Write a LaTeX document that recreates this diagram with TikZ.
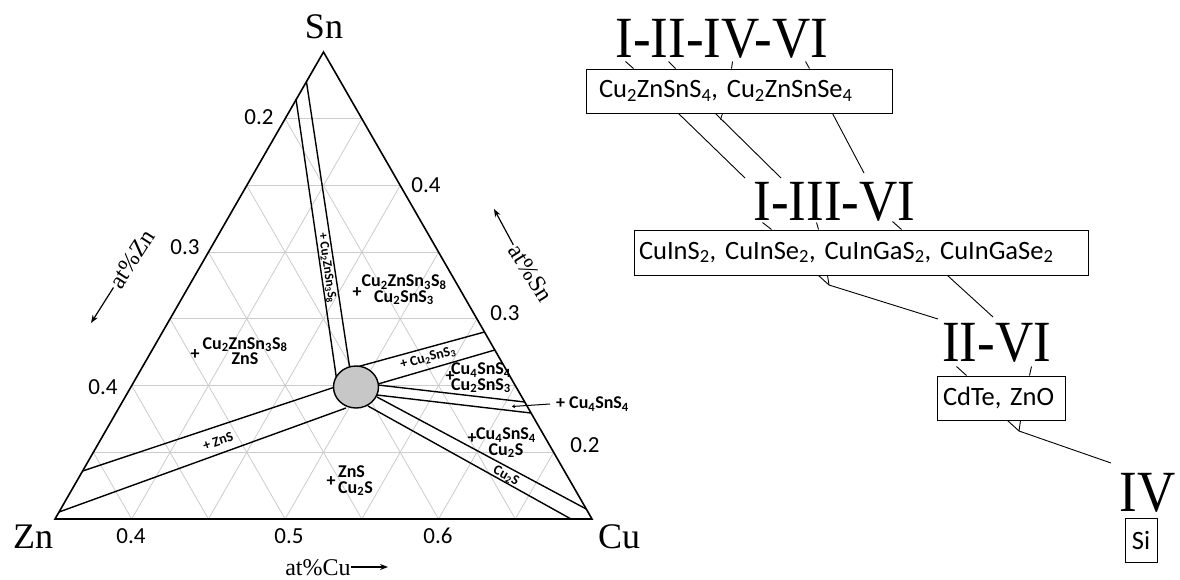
\documentclass[tikz,border=0pt]{standalone}
\usepackage{fontspec}
\usepackage{graphicx}
\setmainfont{Liberation Serif}
\newfontfamily\carl{Carlito}
\usetikzlibrary{arrows.meta,calc,shapes.geometric}
\tikzset{
  gridl/.style={draw=black!20, line width=0.8pt},
  triedge/.style={line width=1.6pt, line join=miter},
  bandline/.style={line width=1.4pt},
  rlab/.style={font=\carl\bfseries\fontsize{18}{15.5}\selectfont, align=center, inner sep=0pt},
  blab/.style={font=\carl\bfseries\fontsize{14}{14}\selectfont, inner sep=0pt},
  ticklab/.style={font=\carl\fontsize{23}{23}\selectfont, inner sep=0pt},
  vertlab/.style={font=\fontsize{36}{36}\selectfont, inner sep=0pt, anchor=base},
  axislab/.style={font=\fontsize{24}{24}\selectfont, inner sep=0pt},
  axarrow/.style={line width=1.2pt, -{Stealth[length=8pt,width=6pt]}},
  bigclass/.style={font=\fontsize{53}{53}\selectfont, inner sep=0pt, anchor=base},
  matbox/.style={draw, line width=1pt, font=\carl\fontsize{26.5}{26.5}\selectfont, inner ysep=0pt},
  link/.style={line width=0.9pt},
}
\begin{document}
\begin{tikzpicture}[x=1pt, y=-1pt]
\useasboundingbox (0,0) rectangle (1180,579);
\fill[white] (0,0) rectangle (1180,579);

% ---------------- ternary diagram ----------------
\coordinate (Zn) at (55,519);
\coordinate (Cu) at (592,519);
\coordinate (Sn) at (323.5,52);

\foreach \k in {1,...,6} {
  \draw[gridl] ($(Zn)!\k/7!(Sn)$) -- ($(Cu)!\k/7!(Sn)$);
  \draw[gridl] ($(Zn)!\k/7!(Cu)$) -- ($(Sn)!\k/7!(Cu)$);
  \draw[gridl] ($(Zn)!\k/7!(Cu)$) -- ($(Zn)!\k/7!(Sn)$);
}

% phase bands
\draw[bandline] (296,99) -- (337,382);
\draw[bandline] (306.5,82) -- (350,370);
\draw[bandline] (353,368) -- (484.5,332);
\draw[bandline] (378,384) -- (494.8,350);
\draw[bandline] (378,385) -- (524.7,402);
\draw[bandline] (377,395) -- (531,413);
\draw[bandline] (377,397) -- (586.2,509);
\draw[bandline] (368,406) -- (571,519);
\draw[bandline] (335,387) -- (82.6,471);
\draw[bandline] (346,408) -- (59,512);

\draw[triedge] (Zn) -- (Cu) -- (Sn) -- cycle;

\node[draw, line width=1.4pt, fill=black!22, ellipse, minimum width=45pt, minimum height=42pt, inner sep=0pt] (phase) at (356,387) {};

% band labels
\node[blab, font=\carl\bfseries\fontsize{13}{13}\selectfont, rotate=-82] (bl1) at (327,268) {+ Cu\textsubscript{2}ZnSn\textsubscript{3}S\textsubscript{8}};
\node[blab, rotate=15] (bl2) at (428,358) {+ Cu\textsubscript{2}SnS\textsubscript{3}};
\node[blab, rotate=18.6] (bl3) at (218,441) {+ ZnS};
\node[blab, rotate=-28.5] (bl4) at (506,476) {Cu\textsubscript{2}S};

% region labels
\node[rlab] (r1) at (404,290) {Cu\textsubscript{2}ZnSn\textsubscript{3}S\textsubscript{8}\\Cu\textsubscript{2}SnS\textsubscript{3}};
\node[rlab] (p1) at (357,293) {+};
\node[rlab] (r2) at (245,351) {Cu\textsubscript{2}ZnSn\textsubscript{3}S\textsubscript{8}\\ZnS};
\node[rlab] (p2) at (195,355) {+};
\node[rlab] (r3) at (481,378) {Cu\textsubscript{4}SnS\textsubscript{4}\\Cu\textsubscript{2}SnS\textsubscript{3}};
\node[rlab] (p3) at (450,377) {+};
\node[rlab] (r4) at (506,443) {Cu\textsubscript{4}SnS\textsubscript{4}\\Cu\textsubscript{2}S};
\node[rlab] (p4) at (472,439) {+};
\node[rlab, align=left, anchor=west] (r5) at (338,481) {ZnS\\Cu\textsubscript{2}S};
\node[rlab] (p5) at (331,482) {+};
\node[rlab, anchor=west] (r6) at (556,404) {+ Cu\textsubscript{4}SnS\textsubscript{4}};
\coordinate (r6end) at (512,406.5);
\draw[line width=1pt, -{Stealth[length=3pt,width=4pt]}] ([xshift=-6pt]r6.west) -- (r6end);

% tick labels
\node[ticklab] (tl1) at (259,117) {0.2};
\node[ticklab] (tl2) at (185,247) {0.3};
\node[ticklab] (tl3) at (103,387) {0.4};
\node[ticklab] (tr1) at (426,185) {0.4};
\node[ticklab] (tr2) at (505,313) {0.3};
\node[ticklab] (tr3) at (585,445) {0.2};
\node[ticklab] (tb1) at (131,536) {0.4};
\node[ticklab] (tb2) at (289,536) {0.5};
\node[ticklab] (tb3) at (438,536) {0.6};

% vertex labels
\node[vertlab] (lSn) at (324,38) {Sn};
\node[vertlab] (lZn) at (33,548) {Zn};
\node[vertlab] (lCu) at (619,548) {Cu};

% axis labels
\node[axislab, rotate=57] (axZn) at (132,259) {at\%Zn};
\coordinate (axZnEnd) at (91,323);
\draw[axarrow] ([shift={(-1,1.5)}]axZn.west) -- (axZnEnd);
\node[axislab, rotate=-58] (axSn) at (531,273) {at\%Sn};
\coordinate (axSnEnd) at (494,209);
\draw[axarrow] ([shift={(-1,-1.5)}]axSn.west) -- (axSnEnd);
\node[axislab, anchor=base] (axCu) at (318,575) {at\%Cu};
\coordinate (axCuEnd) at (388,567);
\draw[axarrow] (axCu.east |- axCuEnd) -- (axCuEnd);

% ---------------- classification tree ----------------
\node[bigclass] (t1) at (722,57) {\scalebox{1}[1.1]{I-II-IV-VI}};
\node[bigclass] (t2) at (834.5,220) {\scalebox{1}[1.1]{I-III-VI}};
\node[bigclass] (t3) at (996.5,361) {\scalebox{1}[1.1]{II-VI}};
\node[bigclass] (t4) at (1147.5,511) {\scalebox{1}[1.1]{IV}};

\node[matbox, minimum width=306pt, minimum height=44pt, text width=280pt, inner xsep=13pt, align=left] (b1) at (739,91)
  {Cu\textsubscript{2}ZnSnS\textsubscript{4}, Cu\textsubscript{2}ZnSnSe\textsubscript{4}};
\node[matbox, minimum width=454pt, minimum height=45pt, text width=444pt, inner xsep=5pt, align=left] (b2) at (861,252.5)
  {CuInS\textsubscript{2}, CuInSe\textsubscript{2}, CuInGaS\textsubscript{2}, CuInGaSe\textsubscript{2}};
\node[matbox, minimum width=128pt, minimum height=44pt, text width=116pt, inner xsep=6pt, align=left] (b3) at (1001,398)
  {CdTe, ZnO};
\node[matbox, minimum width=32pt, minimum height=44pt, inner xsep=0pt] (b4) at (1141,540) {Si};

% ticks from class names to boxes
\draw[link] ($(b1.north west)+(40,-7)$) -- ($(b1.north west)+(48,0)$);
\draw[link] ($(b1.north west)+(83,-7)$) -- ($(b1.north west)+(90,0)$);
\draw[link] ($(b1.north west)+(147,-7)$) -- ($(b1.north west)+(146,0)$);
\draw[link] ($(b1.north west)+(220,-7)$) -- ($(b1.north west)+(224,0)$);

\draw[link] ($(b2.north west)+(129,-7)$) -- ($(b2.north west)+(138,0)$);
\draw[link] ($(b2.north west)+(183,-7)$) -- ($(b2.north west)+(185,0)$);
\draw[link] ($(b2.north west)+(259,-8)$) -- ($(b2.north west)+(268,0)$);

\draw[link] ($(b3.north west)+(20,-9)$) -- ($(b3.north west)+(30,0)$);
\draw[link] ($(b3.north west)+(95,-9)$) -- ($(b3.north west)+(93,0)$);

% links between levels
\coordinate (e1) at (745,178);
\coordinate (e2) at (781,178);
\coordinate (e3) at (864,173);
\draw[link] ($(b1.south west)+(93,0)$) -- (e1);
\draw[link] ($(b1.south west)+(130,0)$) -- (e2);
\draw[link] ($(b1.south west)+(137,0)$) -- ($(b1.south west)+(135,6)$);
\draw[link] ($(b1.south west)+(247,0)$) -- (e3);

\coordinate (f2) at (829,285);
\coordinate (e4) at (938,319);
\coordinate (e5) at (993,317);
\draw[link] ($(b2.south west)+(185,0)$) -- (f2);
\draw[link] ($(b2.south west)+(194,0)$) -- (f2);
\draw[link] (f2) -- (e4);
\draw[link] ($(b2.south west)+(314,0)$) -- (e5);

\coordinate (f3) at (1019,431);
\coordinate (e6) at (1111,463);
\draw[link] ($(b3.south west)+(71,0)$) -- (f3);
\draw[link] ($(b3.south west)+(84,0)$) -- (f3);
\draw[link] (f3) -- (e6);
\end{tikzpicture}
\end{document}
